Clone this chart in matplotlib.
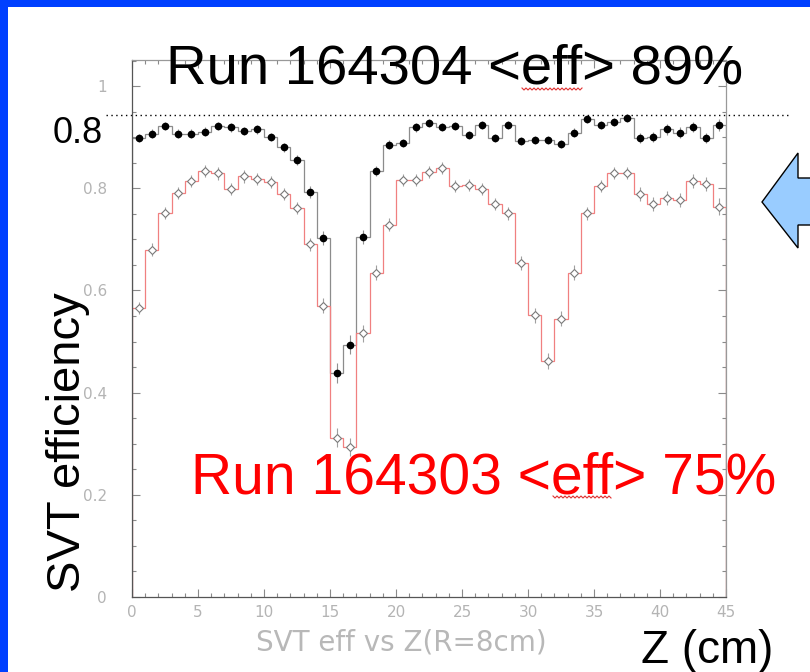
import numpy as np
import matplotlib
matplotlib.use('Agg')
import matplotlib.pyplot as plt
from matplotlib.patches import Rectangle, Polygon
from matplotlib.lines import Line2D
from matplotlib.ticker import MultipleLocator

# Data (45 bins of 1 cm in Z)
bin_edges = np.arange(0, 46)

eff_164304 = [0.898, 0.907, 0.922, 0.907, 0.907, 0.911, 0.922, 0.919, 0.912, 0.915,
              0.901, 0.880, 0.855, 0.792, 0.702, 0.438, 0.494, 0.704, 0.834, 0.885,
              0.888, 0.919, 0.928, 0.920, 0.922, 0.904, 0.924, 0.898, 0.924, 0.892,
              0.895, 0.895, 0.887, 0.909, 0.935, 0.924, 0.930, 0.937, 0.898, 0.900,
              0.915, 0.909, 0.920, 0.898, 0.924]
err_164304 = [0.008, 0.008, 0.008, 0.008, 0.008, 0.008, 0.008, 0.008, 0.008, 0.008,
              0.008, 0.009, 0.010, 0.012, 0.014, 0.020, 0.018, 0.014, 0.010, 0.009,
              0.008, 0.008, 0.008, 0.008, 0.008, 0.008, 0.008, 0.008, 0.008, 0.008,
              0.008, 0.008, 0.008, 0.008, 0.008, 0.008, 0.008, 0.008, 0.010, 0.010,
              0.010, 0.010, 0.010, 0.010, 0.012]

eff_164303 = [0.565, 0.680, 0.752, 0.791, 0.814, 0.834, 0.829, 0.798, 0.823, 0.818,
              0.812, 0.789, 0.761, 0.690, 0.570, 0.312, 0.294, 0.516, 0.635, 0.729,
              0.816, 0.816, 0.832, 0.840, 0.805, 0.807, 0.798, 0.769, 0.751, 0.654,
              0.551, 0.462, 0.545, 0.635, 0.751, 0.804, 0.830, 0.830, 0.789, 0.769,
              0.781, 0.777, 0.814, 0.808, 0.764]
err_164303 = [0.012, 0.012, 0.012, 0.012, 0.012, 0.012, 0.012, 0.012, 0.012, 0.012,
              0.012, 0.012, 0.012, 0.013, 0.015, 0.018, 0.018, 0.016, 0.014, 0.013,
              0.012, 0.012, 0.012, 0.012, 0.012, 0.012, 0.012, 0.012, 0.013, 0.014,
              0.015, 0.016, 0.015, 0.014, 0.013, 0.012, 0.012, 0.012, 0.013, 0.013,
              0.013, 0.013, 0.014, 0.014, 0.016]

ref_level = 0.943

xtick_values = [0, 5, 10, 15, 20, 25, 30, 35, 40, 45]
ytick_values = [0, 0.2, 0.4, 0.6, 0.8, 1.0]
ytick_labels = ['0', '0.2', '0.4', '0.6', '0.8', '1']

W, H = 810, 672


def fx(px):
    return px / W


def fy(py):
    return 1 - py / H


fig = plt.figure(figsize=(W / 100, H / 100), dpi=100)
fig.patch.set_facecolor('white')

# slide border (top and left)
fig.patches.append(Rectangle((0, fy(7)), 1, 7 / H, transform=fig.transFigure,
                             facecolor='#0040FF', edgecolor='none', zorder=0))
fig.patches.append(Rectangle((0, 0), 8 / W, 1, transform=fig.transFigure,
                             facecolor='#0040FF', edgecolor='none', zorder=0))

ax = fig.add_axes([fx(132), fy(597), (726 - 132) / W, (597 - 60) / H])

centers = (bin_edges[:-1] + bin_edges[1:]) / 2
ax.stairs(eff_164304, bin_edges, baseline=0, color='#8c8c8c', lw=0.9)
ax.stairs(eff_164303, bin_edges, baseline=0, color='#f08080', lw=0.9)
ax.errorbar(centers, eff_164303, yerr=err_164303, fmt='D', ms=4.5,
            mfc='white', mec='#7a7a7a', mew=0.8, ecolor='#a0a0a0',
            elinewidth=0.8, capsize=0, zorder=3)
ax.errorbar(centers, eff_164304, yerr=err_164304, fmt='o', ms=4.5,
            color='black', ecolor='#909090', elinewidth=0.8, capsize=0, zorder=4)

# dotted reference line, running past the frame
ax.plot([-2.0, 49.8], [ref_level, ref_level], ls=(0, (1, 2.5)), color='black',
        lw=1, clip_on=False)

ax.set_xlim(0, 45)
ax.set_ylim(0, 1.051)
ax.set_xticks(xtick_values)
ax.set_yticks(ytick_values, ytick_labels)
ax.xaxis.set_minor_locator(MultipleLocator(1))
ax.yaxis.set_minor_locator(MultipleLocator(0.05))
ax.tick_params(which='both', direction='in', top=True, right=True,
               colors='#8a8a8a', labelcolor='#b4b4b4', labelsize=11)
ax.tick_params(which='major', length=6, width=0.8)
ax.tick_params(which='minor', length=3, width=0.8)
ax.tick_params(axis='y', pad=18)
ax.tick_params(axis='x', pad=6)
for side in ['left', 'bottom']:
    ax.spines[side].set_color('#555555')
for side in ['top', 'right']:
    ax.spines[side].set_color('#999999')
for s in ax.spines.values():
    s.set_linewidth(0.9)

big = 'Liberation Sans'
fig.text(fx(455), fy(83), 'Run 164304 <eff> 89%', fontsize=40.5,
         family=big, color='black', ha='center', va='baseline')
fig.text(fx(483.5), fy(493), 'Run 164303 <eff> 75%', fontsize=41,
         family=big, color='#ff0000', ha='center', va='baseline')
fig.text(fx(78), fy(143), '0.8', fontsize=26, family=big, color='black',
         ha='center', va='baseline')
fig.text(fx(707), fy(663), 'Z (cm)', fontsize=33, family=big, color='black',
         ha='center', va='baseline')
fig.text(fx(80), fy(442.5), 'SVT efficiency', fontsize=34, family=big,
         color='black', rotation=90, rotation_mode='anchor',
         ha='center', va='baseline')
fig.text(fx(401.5), fy(651), 'SVT eff vs Z(R=8cm)', fontsize=20,
         family='DejaVu Sans', color='#b8b8b8', ha='center', va='baseline')


# spell-check squiggles under "eff"
def squiggle(x0, x1, y):
    xs = np.arange(x0, x1 + 0.1, 2.0)
    ys = y + np.where(np.arange(len(xs)) % 2 == 0, -1.0, 1.0)
    fig.add_artist(Line2D(fx(xs), fy(ys), transform=fig.transFigure,
                          color='#e03030', lw=0.8))


squiggle(522, 582, 89)
squiggle(553, 611, 497)

# block arrow on the right
arrow_px = [(762, 202), (798, 153), (798, 178), (815, 178),
            (815, 225), (798, 225), (798, 248)]
fig.patches.append(Polygon([(fx(x), fy(y)) for x, y in arrow_px], closed=True,
                           transform=fig.transFigure, facecolor='#99CCFF',
                           edgecolor='black', lw=1.0))

fig.savefig('out.png', dpi=100)
